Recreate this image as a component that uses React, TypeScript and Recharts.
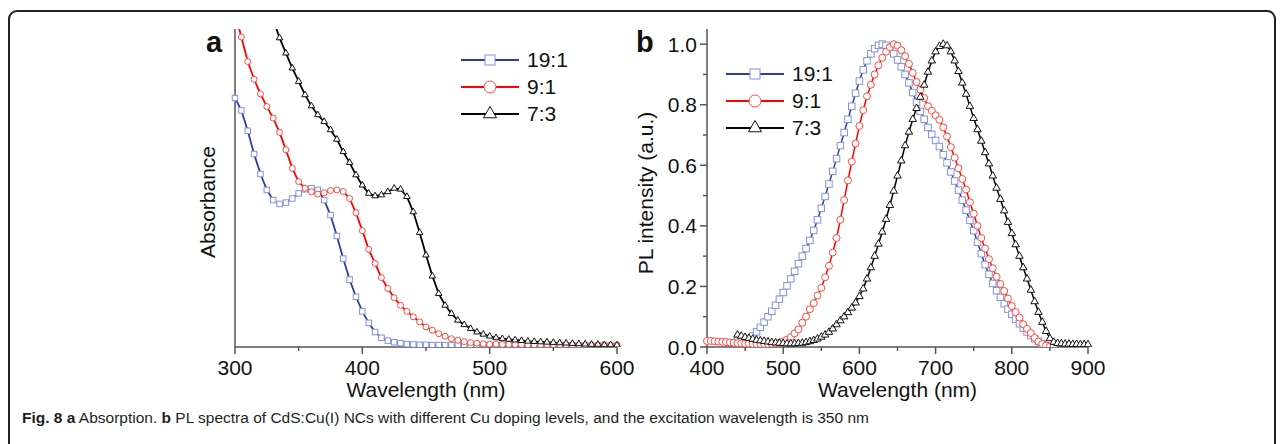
import React from 'react';
import { LineChart, Line, XAxis, YAxis, Legend, Label } from 'recharts';

// panel a: absorption, arbitrary units (0 = axis, 1 = top of frame)
const absNm = [
  300, 305, 310, 315, 320, 325, 330, 335, 340, 345,
  350, 355, 360, 365, 370, 375, 380, 385, 390, 395,
  400, 405, 410, 415, 420, 425, 430, 435, 440, 445,
  450, 455, 460, 465, 470, 475, 480, 485, 490, 495,
  500, 505, 510, 515, 520, 525, 530, 535, 540, 545,
  550, 555, 560, 565, 570, 575, 580, 585, 590, 595,
  600,
];
const abs19 = [
  0.783, 0.744, 0.68, 0.607, 0.544, 0.494, 0.462, 0.45, 0.454, 0.467,
  0.483, 0.496, 0.499, 0.494, 0.462, 0.415, 0.349, 0.278, 0.212, 0.158,
  0.112, 0.076, 0.047, 0.029, 0.02, 0.015, 0.012, 0.009, 0.008, 0.007,
  0.007, 0.006, 0.006, 0.006, 0.006, 0.005, 0.005, 0.005, 0.005, 0.005,
  0.005, 0.005, 0.005, 0.004, 0.004, 0.004, 0.004, 0.004, 0.004, 0.004,
  0.004, 0.004, 0.004, 0.004, 0.004, 0.004, 0.004, 0.004, 0.004, 0.004,
  0.004,
];
const abs91 = [
  1.05, 0.975, 0.898, 0.842, 0.796, 0.756, 0.72, 0.675, 0.62, 0.562,
  0.52, 0.499, 0.488, 0.481, 0.485, 0.492, 0.494, 0.489, 0.467, 0.422,
  0.366, 0.307, 0.263, 0.218, 0.184, 0.155, 0.131, 0.112, 0.095, 0.079,
  0.063, 0.053, 0.042, 0.034, 0.026, 0.021, 0.017, 0.014, 0.012, 0.01,
  0.009, 0.009, 0.008, 0.008, 0.008, 0.008, 0.007, 0.007, 0.007, 0.007,
  0.007, 0.007, 0.007, 0.006, 0.006, 0.006, 0.006, 0.006, 0.006, 0.006,
  0.006,
];
const abs73 = [
  null, null, null, null, null, null, 1.03, 0.972, 0.924, 0.877,
  0.835, 0.793, 0.758, 0.73, 0.709, 0.683, 0.653, 0.614, 0.58, 0.541,
  0.509, 0.483, 0.475, 0.478, 0.488, 0.499, 0.496, 0.473, 0.425, 0.36,
  0.289, 0.223, 0.168, 0.131, 0.105, 0.084, 0.07, 0.058, 0.047, 0.04,
  0.034, 0.029, 0.026, 0.024, 0.022, 0.02, 0.018, 0.017, 0.016, 0.015,
  0.014, 0.013, 0.012, 0.011, 0.01, 0.009, 0.008, 0.008, 0.007, 0.007,
  0.006,
];

// panel b: normalised PL
const plNm = [
  400, 405, 410, 415, 420, 425, 430, 435, 440, 445,
  450, 455, 460, 465, 470, 475, 480, 485, 490, 495,
  500, 505, 510, 515, 520, 525, 530, 535, 540, 545,
  550, 555, 560, 565, 570, 575, 580, 585, 590, 595,
  600, 605, 610, 615, 620, 625, 630, 635, 640, 645,
  650, 655, 660, 665, 670, 675, 680, 685, 690, 695,
  700, 705, 710, 715, 720, 725, 730, 735, 740, 745,
  750, 755, 760, 765, 770, 775, 780, 785, 790, 795,
  800, 805, 810, 815, 820, 825, 830, 835, 840, 845,
  850, 855, 860, 865, 870, 875, 880, 885, 890, 895,
  900,
];
const pl19 = [
  null, null, null, null, null, null, null, null, 0.022, 0.022,
  0.024, 0.028, 0.036, 0.05, 0.065, 0.082, 0.1, 0.118, 0.138, 0.158,
  0.18, 0.202, 0.225, 0.25, 0.275, 0.3, 0.325, 0.352, 0.385, 0.42,
  0.458, 0.497, 0.538, 0.58, 0.622, 0.665, 0.708, 0.752, 0.795, 0.838,
  0.878, 0.915, 0.945, 0.968, 0.985, 0.996, 1.0, 0.996, 0.985, 0.968,
  0.948, 0.925, 0.9, 0.872, 0.84, 0.808, 0.778, 0.752, 0.725, 0.702,
  0.682, 0.662, 0.635, 0.608, 0.578, 0.548, 0.518, 0.485, 0.452, 0.418,
  0.384, 0.346, 0.308, 0.272, 0.24, 0.21, 0.186, 0.164, 0.143, 0.125,
  0.108, 0.092, 0.077, 0.062, 0.05, 0.038, 0.027, 0.018, 0.01, 0.004,
  0.0, null, null, null, null, null, null, null, null, null,
  null,
];
const pl91 = [
  0.02, 0.02, 0.019, 0.018, 0.017, 0.016, 0.015, 0.014, 0.013, 0.012,
  0.011, 0.011, 0.01, 0.01, 0.01, 0.01, 0.01, 0.011, 0.012, 0.014,
  0.018, 0.024, 0.033, 0.045, 0.058, 0.08, 0.1, 0.125, 0.145, 0.17,
  0.195, 0.23, 0.268, 0.312, 0.36, 0.42, 0.485, 0.55, 0.612, 0.672,
  0.73, 0.782, 0.828, 0.866, 0.9, 0.93, 0.955, 0.975, 0.99, 1.0,
  0.995, 0.98, 0.96, 0.935, 0.905, 0.875, 0.85, 0.822, 0.795, 0.78,
  0.765, 0.75, 0.725, 0.695, 0.66, 0.625, 0.59, 0.555, 0.52, 0.478,
  0.44, 0.4, 0.36, 0.325, 0.29, 0.26, 0.232, 0.208, 0.185, 0.16,
  0.135, 0.115, 0.097, 0.075, 0.06, 0.046, 0.03, 0.018, 0.01, 0.005,
  0.002, 0.0, null, null, null, null, null, null, null, null,
  null,
];
const pl73 = [
  null, null, null, null, null, null, null, null, 0.04, 0.036,
  0.032, 0.029, 0.026, 0.023, 0.021, 0.019, 0.017, 0.015, 0.014, 0.013,
  0.012, 0.011, 0.011, 0.011, 0.012, 0.013, 0.015, 0.018, 0.022, 0.027,
  0.033, 0.04, 0.049, 0.06, 0.074, 0.087, 0.1, 0.114, 0.129, 0.146,
  0.167, 0.192, 0.225, 0.262, 0.3, 0.34, 0.38, 0.422, 0.468, 0.515,
  0.565, 0.615, 0.665, 0.71, 0.752, 0.788, 0.825, 0.865, 0.908, 0.945,
  0.975, 0.993, 1.0, 0.995, 0.975, 0.945, 0.91, 0.872, 0.835, 0.795,
  0.755, 0.718, 0.68, 0.642, 0.605, 0.565, 0.525, 0.488, 0.45, 0.412,
  0.375, 0.338, 0.3, 0.262, 0.225, 0.188, 0.15, 0.115, 0.082, 0.052,
  0.028, 0.016, 0.012, 0.011, 0.01, 0.01, 0.009, 0.009, 0.008, 0.008,
  0.008,
];

const absTicks = [300, 350, 400, 450, 500, 550, 600];
const plXTicks = [400, 450, 500, 550, 600, 650, 700, 750, 800, 850, 900];
const plYTicks = [0, 0.1, 0.2, 0.3, 0.4, 0.5, 0.6, 0.7, 0.8, 0.9, 1.0];

const seriesNames = ['19:1', '9:1', '7:3'];

const FONT = '"Liberation Sans", Arial, sans-serif';
const AXIS = '#555';

const styles: Record<string, { line: string; mark: string; shape: string }> = {
  '19:1': { line: '#2a3f9d', mark: '#8391e0', shape: 'square' },
  '9:1': { line: '#ff0000', mark: '#ff4a3d', shape: 'circle' },
  '7:3': { line: '#000000', mark: '#111111', shape: 'triangle' },
};

const toPoints = (xs: number[], ys: (number | null)[]) =>
  xs.map((x, i) => ({ x, y: ys[i] })).filter((p) => p.y !== null);

const Marker = ({ shape, cx, cy, size, color }: any) => {
  if (cx == null || cy == null) return null;
  if (shape === 'square') {
    return <rect x={cx - size / 2} y={cy - size / 2} width={size} height={size} fill="#fff" stroke={color} strokeWidth={1} />;
  }
  if (shape === 'circle') {
    return <circle cx={cx} cy={cy} r={size / 2} fill="#fff" stroke={color} strokeWidth={1} />;
  }
  const h = size * 0.87;
  return (
    <polygon
      points={`${cx},${cy - (h * 2) / 3} ${cx - size / 2},${cy + h / 3} ${cx + size / 2},${cy + h / 3}`}
      fill="#fff"
      stroke={color}
      strokeWidth={1}
    />
  );
};

const XTick = ({ x, y, payload }: any) => {
  const major = payload.value % 100 === 0;
  return (
    <g>
      <line x1={x} x2={x} y1={y} y2={y + (major ? 7 : 4)} stroke={AXIS} strokeWidth={1.5} />
      {major && (
        <text x={x} y={y + 28} textAnchor="middle" fontSize={21} fontFamily={FONT} fill="#111">
          {payload.value}
        </text>
      )}
    </g>
  );
};

const YTick = ({ x, y, payload }: any) => {
  const major = Math.round(payload.value * 10) % 2 === 0;
  return (
    <g>
      <line x1={x} x2={x - (major ? 7 : 4)} y1={y} y2={y} stroke={AXIS} strokeWidth={1.5} />
      {major && (
        <text x={x - 10} y={y + 7.5} textAnchor="end" fontSize={21} fontFamily={FONT} fill="#111">
          {payload.value.toFixed(1)}
        </text>
      )}
    </g>
  );
};

const xTitle = (text: string) => ({ viewBox }: any) => (
  <text x={viewBox.x + viewBox.width / 2} y={viewBox.y + 50} textAnchor="middle" fontSize={21} fontFamily={FONT} fill="#111">
    {text}
  </text>
);

const yTitle = (text: string, dx: number, dy: number) => ({ viewBox }: any) => {
  const cx = viewBox.x + dx;
  const cy = viewBox.y + viewBox.height / 2 + dy;
  return (
    <text x={cx} y={cy} transform={`rotate(-90, ${cx}, ${cy})`} textAnchor="middle" dominantBaseline="central" fontSize={21} fontFamily={FONT} fill="#111">
      {text}
    </text>
  );
};

// legend rows in the series order, not alphabetical
const legendContent = ({ payload }: any) => {
  const items = [...(payload || [])].sort(
    (a: any, b: any) => seriesNames.indexOf(a.value) - seriesNames.indexOf(b.value),
  );
  return (
    <div style={{ fontFamily: FONT, fontSize: 21, color: '#111' }}>
      {items.map((entry: any) => {
        const st = styles[entry.value];
        return (
          <div key={entry.value} style={{ display: 'flex', alignItems: 'center', height: 27 }}>
            <svg width={60} height={20}>
              <line x1={0} x2={58} y1={10} y2={10} stroke={st.line} strokeWidth={2} />
              <Marker shape={st.shape} cx={29} cy={10} size={st.shape === 'triangle' ? 13 : st.shape === 'circle' ? 12 : 10} color={st.mark} />
            </svg>
            <span style={{ marginLeft: 6 }}>{entry.value}</span>
          </div>
        );
      })}
    </div>
  );
};

const renderSeries = (xs: number[], ys: (number | null)[][], sizes: Record<string, number>, width: number) =>
  seriesNames.map((name, i) => {
    const st = styles[name];
    return (
      <Line
        key={name}
        name={name}
        data={toPoints(xs, ys[i])}
        dataKey="y"
        type="linear"
        stroke={st.line}
        strokeWidth={width}
        isAnimationActive={false}
        activeDot={false}
        dot={(p: any) => <Marker key={p.index} shape={st.shape} cx={p.cx} cy={p.cy} size={sizes[st.shape]} color={st.mark} />}
      />
    );
  });

const letter = (ch: string, left: number) => (
  <div style={{ position: 'absolute', left, top: 27, fontFamily: FONT, fontWeight: 'bold', fontSize: 29, lineHeight: '30px', color: '#111' }}>
    {ch}
  </div>
);

export default function App() {
  return (
    <div>
      <div
        style={{
          position: 'absolute',
          left: 8,
          top: 10,
          width: 1268,
          height: 434,
          boxSizing: 'border-box',
          border: '2px solid #222',
          borderBottom: 'none',
          borderRadius: '9px 9px 0 0',
        }}
      />
      {letter('a', 206)}
      {letter('b', 636)}

      <div style={{ position: 'absolute', left: 185, top: 0 }}>
        <LineChart width={457} height={407} margin={{ top: 29, right: 25, bottom: 5, left: 0 }}>
          <XAxis dataKey="x" type="number" domain={[300, 600]} ticks={absTicks} interval={0} height={55}
            axisLine={{ stroke: AXIS, strokeWidth: 1.5 }} tickLine={false} tickSize={0} tickMargin={0} tick={(p: any) => <XTick {...p} />}>
            <Label content={xTitle('Wavelength (nm)')} />
          </XAxis>
          <XAxis xAxisId="top" orientation="top" type="number" domain={[300, 600]} height={0} tick={false} tickLine={false}
            axisLine={{ stroke: AXIS, strokeWidth: 1.5 }} />
          <YAxis type="number" domain={[0, 1]} allowDataOverflow width={50} tick={false} tickLine={false}
            axisLine={{ stroke: AXIS, strokeWidth: 1.5 }}>
            <Label content={yTitle('Absorbance', 22, 14)} />
          </YAxis>
          <YAxis yAxisId="right" orientation="right" type="number" domain={[0, 1]} width={0} tick={false} tickLine={false}
            axisLine={{ stroke: AXIS, strokeWidth: 1.5 }} />
          <Legend layout="vertical" align="center" verticalAlign="middle" content={legendContent}
            wrapperStyle={{ left: 276, top: 46, width: 'auto' }} />
          {renderSeries(absNm, [abs19, abs91, abs73], { square: 5.5, circle: 6, triangle: 6.5 }, 1.8)}
        </LineChart>
      </div>

      <div style={{ position: 'absolute', left: 620, top: 0 }}>
        <LineChart width={493} height={407} margin={{ top: 29, right: 25, bottom: 5, left: 0 }}>
          <XAxis dataKey="x" type="number" domain={[400, 900]} ticks={plXTicks} interval={0} height={55}
            axisLine={{ stroke: AXIS, strokeWidth: 1.5 }} tickLine={false} tickSize={0} tickMargin={0} tick={(p: any) => <XTick {...p} />}>
            <Label content={xTitle('Wavelength (nm)')} />
          </XAxis>
          <XAxis xAxisId="top" orientation="top" type="number" domain={[400, 900]} height={0} tick={false} tickLine={false}
            axisLine={{ stroke: AXIS, strokeWidth: 1.5 }} />
          <YAxis type="number" domain={[0, 1.05]} ticks={plYTicks} interval={0} allowDataOverflow width={87}
            axisLine={{ stroke: AXIS, strokeWidth: 1.5 }} tickLine={false} tickSize={0} tickMargin={0} tick={(p: any) => <YTick {...p} />}>
            <Label content={yTitle('PL intensity (a.u.)', 25, 5)} />
          </YAxis>
          <YAxis yAxisId="right" orientation="right" type="number" domain={[0, 1.05]} width={0} tick={false} tickLine={false}
            axisLine={{ stroke: AXIS, strokeWidth: 1.5 }} />
          <Legend layout="vertical" align="center" verticalAlign="middle" content={legendContent}
            wrapperStyle={{ left: 106, top: 60, width: 'auto' }} />
          {renderSeries(plNm, [pl19, pl91, pl73], { square: 6.5, circle: 7, triangle: 7.5 }, 1.5)}
        </LineChart>
      </div>

      <div style={{ position: 'absolute', left: 22, top: 409, fontFamily: FONT, fontSize: 15.5, color: '#231f20', whiteSpace: 'nowrap' }}>
        <b>Fig. 8</b> <b>a</b> Absorption. <b>b</b> PL spectra of CdS:Cu(I) NCs with different Cu doping levels, and the excitation wavelength is 350 nm
      </div>
    </div>
  );
}
